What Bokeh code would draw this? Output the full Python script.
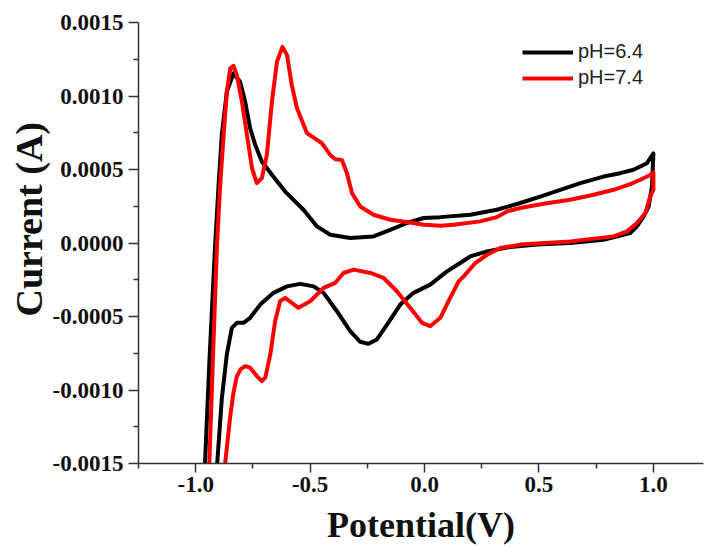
from bokeh.plotting import figure
from bokeh.models import (FixedTicker, PrintfTickFormatter, Range1d, Title,
                          Legend, LegendItem)
from bokeh.embed import file_html
from bokeh.resources import INLINE

# ---- data: potential (V) and current (A) ----
ph64_x = [-0.965, -0.940, -0.915, -0.900, -0.886, -0.864, -0.835, -0.806, -0.784,
          -0.762, -0.740, -0.711, -0.667, -0.609, -0.587, -0.529, -0.470, -0.412,
          -0.325, -0.223, -0.150, -0.077, -0.004, 0.069, 0.200, 0.316, 0.418,
          0.506, 0.593, 0.681, 0.782, 0.855, 0.913, 0.972, 1.000,
          0.994, 0.979, 0.957, 0.928, 0.899, 0.782, 0.637, 0.491, 0.375, 0.273,
          0.200, 0.156, 0.098, 0.025, -0.048, -0.106, -0.164, -0.208, -0.245,
          -0.281, -0.325, -0.383, -0.441, -0.485, -0.543, -0.601, -0.660, -0.718,
          -0.762, -0.791, -0.820, -0.842, -0.864, -0.886, -0.907, -0.915]
ph64_y = [-1.70e-3, -0.80e-3, -0.01e-3, 0.396e-3, 0.735e-3, 1.029e-3, 1.154e-3, 1.097e-3, 0.961e-3,
          0.78e-3, 0.667e-3, 0.554e-3, 0.464e-3, 0.35e-3, 0.316e-3, 0.226e-3, 0.113e-3, 0.056e-3,
          0.034e-3, 0.045e-3, 0.09e-3, 0.136e-3, 0.17e-3, 0.176e-3, 0.192e-3, 0.226e-3, 0.272e-3,
          0.316e-3, 0.362e-3, 0.407e-3, 0.452e-3, 0.475e-3, 0.498e-3, 0.543e-3, 0.61e-3,
          0.384e-3, 0.248e-3, 0.18e-3, 0.113e-3, 0.068e-3, 0.022e-3, 0.0, -0.011e-3, -0.027e-3, -0.057e-3,
          -0.091e-3, -0.136e-3, -0.193e-3, -0.283e-3, -0.339e-3, -0.419e-3, -0.555e-3, -0.656e-3, -0.686e-3,
          -0.672e-3, -0.60e-3, -0.464e-3, -0.339e-3, -0.295e-3, -0.278e-3, -0.295e-3, -0.339e-3, -0.419e-3,
          -0.509e-3, -0.543e-3, -0.543e-3, -0.577e-3, -0.758e-3, -1.06e-3, -1.52e-3, -1.70e-3]

ph74_x = [-0.945, -0.925, -0.907, -0.893, -0.878, -0.864, -0.849, -0.835, -0.820,
          -0.798, -0.776, -0.754, -0.733, -0.711, -0.689, -0.667, -0.645, -0.621,
          -0.601, -0.580, -0.558, -0.514, -0.449, -0.412, -0.390, -0.361, -0.339,
          -0.317, -0.281, -0.223, -0.150, -0.063, -0.004, 0.069, 0.127, 0.243,
          0.316, 0.360, 0.418, 0.520, 0.637, 0.739, 0.826, 0.899, 0.943, 0.986, 1.000,
          1.000, 0.986, 0.965, 0.928, 0.885, 0.826, 0.637, 0.418, 0.331, 0.273,
          0.222, 0.171, 0.149, 0.112, 0.069, 0.025, -0.011, -0.063, -0.121, -0.179,
          -0.237, -0.310, -0.354, -0.390, -0.441, -0.500, -0.551, -0.580, -0.609,
          -0.631, -0.653, -0.674, -0.696, -0.711, -0.733, -0.762, -0.784, -0.804,
          -0.820, -0.835, -0.849, -0.871, -0.876]
ph74_y = [-1.70e-3, -0.80e-3, -0.01e-3, 0.396e-3, 0.735e-3, 1.029e-3, 1.188e-3, 1.205e-3, 1.142e-3,
          0.961e-3, 0.735e-3, 0.509e-3, 0.407e-3, 0.441e-3, 0.599e-3, 0.961e-3, 1.232e-3, 1.334e-3,
          1.278e-3, 1.074e-3, 0.92e-3, 0.747e-3, 0.679e-3, 0.599e-3, 0.57e-3, 0.565e-3, 0.475e-3,
          0.339e-3, 0.248e-3, 0.192e-3, 0.158e-3, 0.14e-3, 0.124e-3, 0.117e-3, 0.124e-3, 0.147e-3,
          0.176e-3, 0.215e-3, 0.238e-3, 0.267e-3, 0.294e-3, 0.328e-3, 0.362e-3, 0.40e-3, 0.43e-3, 0.463e-3, 0.48e-3,
          0.362e-3, 0.317e-3, 0.204e-3, 0.136e-3, 0.079e-3, 0.045e-3, 0.011e-3, -0.011e-3, -0.034e-3, -0.08e-3,
          -0.136e-3, -0.227e-3, -0.261e-3, -0.373e-3, -0.509e-3, -0.566e-3, -0.543e-3, -0.441e-3, -0.328e-3, -0.238e-3,
          -0.204e-3, -0.181e-3, -0.204e-3, -0.271e-3, -0.305e-3, -0.396e-3, -0.441e-3, -0.407e-3, -0.373e-3,
          -0.396e-3, -0.532e-3, -0.758e-3, -0.916e-3, -0.94e-3, -0.905e-3, -0.848e-3, -0.838e-3, -0.86e-3,
          -0.906e-3, -1.018e-3, -1.177e-3, -1.494e-3, -1.70e-3]

series_names = ["pH=6.4", "pH=7.4"]
series_colors = ["#000000", "#ff0000"]

x_major = [-1.0, -0.5, 0.0, 0.5, 1.0]
x_minor = [-1.25, -0.75, -0.25, 0.25, 0.75]
y_major = [-0.0015, -0.0010, -0.0005, 0.0, 0.0005, 0.0010, 0.0015]
y_minor = [-0.00125, -0.00075, -0.00025, 0.00025, 0.00075, 0.00125]

SERIF = "Liberation Serif"

p = figure(width=707, height=547, output_backend="svg", toolbar_location=None,
           x_range=Range1d(-1.25, 1.219), y_range=Range1d(-0.0015, 0.0015),
           min_border_left=138, min_border_right=4, min_border_top=22, min_border_bottom=83)
p.outline_line_color = None
p.xgrid.visible = False
p.ygrid.visible = False
p.background_fill_color = "white"
p.border_fill_color = "white"

r1 = p.line(ph64_x, ph64_y, line_color=series_colors[0], line_width=4, line_join="round")
r2 = p.line(ph74_x, ph74_y, line_color=series_colors[1], line_width=4, line_join="round")

for ax in (p.xaxis[0], p.yaxis[0]):
    ax.axis_line_color = "#333333"
    ax.axis_line_width = 1.5
    ax.major_tick_line_color = "#333333"
    ax.minor_tick_line_color = "#333333"
    ax.major_tick_line_width = 1.5
    ax.minor_tick_line_width = 1.5
    ax.major_tick_in = 0
    ax.minor_tick_in = 0
    ax.major_label_text_font = SERIF
    ax.major_label_text_font_style = "bold"
    ax.major_label_text_font_size = "23px"
    ax.major_label_text_color = "#111111"

p.xaxis.ticker = FixedTicker(ticks=x_major, minor_ticks=x_minor)
p.yaxis.ticker = FixedTicker(ticks=y_major, minor_ticks=y_minor)
p.xaxis.formatter = PrintfTickFormatter(format="%.1f")
p.yaxis.formatter = PrintfTickFormatter(format="%.4f")
p.xaxis.major_tick_out = 9
p.xaxis.minor_tick_out = 5
p.yaxis.major_tick_out = 10
p.yaxis.minor_tick_out = 5
p.xaxis.major_label_standoff = 4
p.yaxis.major_label_standoff = 5

p.xaxis.axis_label = "Potential(V)"
p.xaxis.axis_label_text_font = SERIF
p.xaxis.axis_label_text_font_style = "bold"
p.xaxis.axis_label_text_font_size = "36px"
p.xaxis.axis_label_text_color = "#111111"
p.xaxis.axis_label_standoff = 10

ytitle = Title(text="Current (A)", align="left", offset=147,
               text_font=SERIF, text_font_style="bold", text_font_size="38px",
               text_color="#111111", standoff=0)
p.add_layout(ytitle, "left")

legend = Legend(items=[LegendItem(label=series_names[0], renderers=[r1]),
                       LegendItem(label=series_names[1], renderers=[r2])],
                location=(384, 374))
legend.border_line_color = None
legend.background_fill_alpha = 0
legend.padding = 0
legend.margin = 0
legend.spacing = 3
legend.glyph_width = 51
legend.glyph_height = 20
legend.label_height = 20
legend.label_standoff = 5
legend.label_text_font = "Liberation Sans"
legend.label_text_font_size = "20px"
legend.label_text_color = "#222222"
p.add_layout(legend)

open("out.html", "w").write(file_html(p, INLINE))
